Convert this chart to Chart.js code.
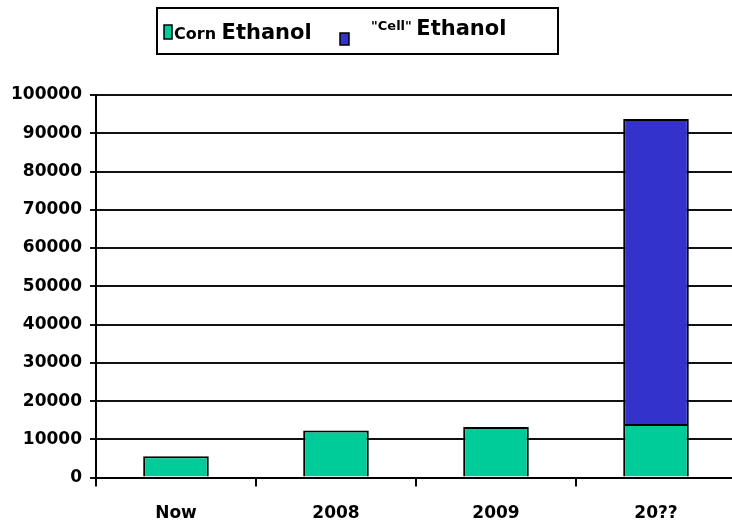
<!DOCTYPE html>
<html>
<head>
<meta charset="utf-8">
<script src="https://cdn.jsdelivr.net/npm/chart.js@4"></script>
<style>
  html, body { margin: 0; padding: 0; background: #fff; overflow: hidden; }
  #wrap { position: relative; width: 740px; height: 541px; }
</style>
</head>
<body>
<div id="wrap"><canvas id="chart"></canvas></div>
<script>
// values
var categories = ["Now", "2008", "2009", "20??"];
var cornEthanol = [5600, 12300, 13200, 14000];
var cellEthanol = [null, null, null, 79700];
var seriesNames = ["Corn Ethanol", "\"Cell\" Ethanol"];
var seriesColors = ["#00CC99", "#3333CC"];
var yMax = 100000;
var yStep = 10000;

Chart.defaults.font.family = "'DejaVu Sans', sans-serif";
Chart.defaults.font.weight = "bold";
Chart.defaults.color = "#000";

// legend drawn by hand: first word small, "Ethanol" big
var legendBox = {
    id: "legendBox",
    afterDraw: function (chart) {
        var ctx = chart.ctx;
        ctx.save();
        ctx.lineWidth = 2;
        ctx.strokeStyle = "#000";
        ctx.strokeRect(157, 8, 401, 46);

        var items = [
            {sw: [164, 25, 8, 14], x: 174, small: 16, smallY: 39, bigY: 39},
            {sw: [340, 33, 9, 12], x: 371, small: 13, smallY: 30, bigY: 35}
        ];
        ctx.textBaseline = "alphabetic";
        ctx.textAlign = "left";
        for (var i = 0; i < items.length; i++) {
            var it = items[i];
            ctx.fillStyle = seriesColors[i];
            ctx.fillRect(it.sw[0], it.sw[1], it.sw[2], it.sw[3]);
            ctx.lineWidth = 1.5;
            ctx.strokeRect(it.sw[0], it.sw[1], it.sw[2], it.sw[3]);
            var parts = seriesNames[i].split(" ");
            ctx.fillStyle = "#000";
            ctx.font = "bold " + it.small + "px 'DejaVu Sans'";
            ctx.fillText(parts[0], it.x, it.smallY);
            var w = ctx.measureText(parts[0] + " ").width;
            ctx.font = "bold 21px 'DejaVu Sans'";
            ctx.fillText(parts[1], it.x + w, it.bigY);
        }
        ctx.restore();
    }
};

new Chart(document.getElementById("chart"), {
    type: "bar",
    data: {
        labels: categories,
        datasets: [
            {
                label: seriesNames[0],
                data: cornEthanol,
                backgroundColor: seriesColors[0],
                borderColor: "#000",
                borderWidth: 2,
                borderSkipped: "bottom",
                barPercentage: 0.41,
                categoryPercentage: 1
            },
            {
                label: seriesNames[1],
                data: cellEthanol,
                backgroundColor: seriesColors[1],
                borderColor: "#000",
                borderWidth: 2,
                borderSkipped: "bottom",
                barPercentage: 0.41,
                categoryPercentage: 1
            }
        ]
    },
    options: {
        responsive: true,
        maintainAspectRatio: false,
        animation: false,
        layout: {
            padding: {top: 95, left: 3, right: 4, bottom: 0}
        },
        plugins: {
            legend: {display: false},
            tooltip: {enabled: false}
        },
        scales: {
            x: {
                stacked: true,
                grid: {
                    display: true,
                    drawOnChartArea: false,
                    drawTicks: true,
                    tickLength: 9,
                    offset: true,
                    color: "#000",
                    lineWidth: 2
                },
                border: {display: true, color: "#000", width: 2},
                ticks: {font: {size: 17, weight: "bold"}, padding: 17, color: "#000"}
            },
            y: {
                stacked: true,
                min: 0,
                max: yMax,
                grid: {
                    color: "#111",
                    lineWidth: 2,
                    tickLength: 6,
                    drawTicks: true
                },
                border: {display: true, color: "#000", width: 2},
                ticks: {
                    stepSize: yStep,
                    font: {size: 17, weight: "bold"},
                    padding: 8,
                    color: "#000",
                    callback: function (v) { return String(v); }
                }
            }
        }
    },
    plugins: [legendBox]
});
</script>
</body>
</html>
